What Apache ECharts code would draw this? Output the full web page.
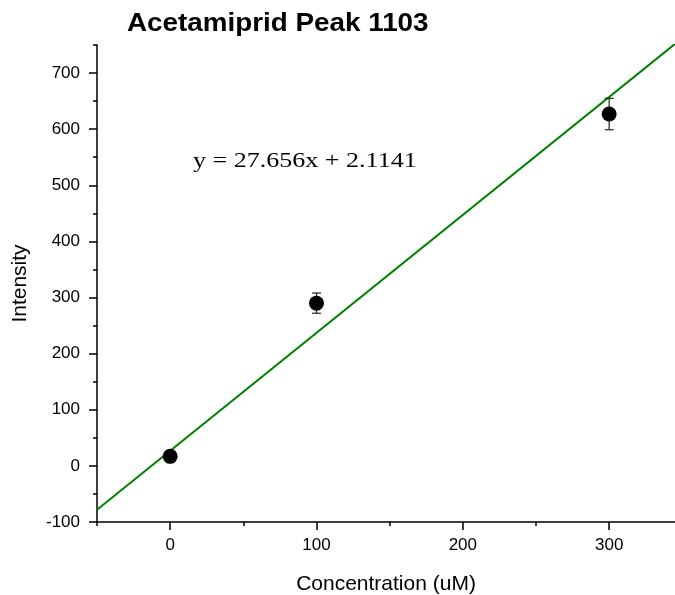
<!DOCTYPE html>
<html>
<head>
<meta charset="utf-8">
<script src="https://cdn.jsdelivr.net/npm/echarts@6/dist/echarts.min.js"></script>
<style>
  html, body { margin: 0; padding: 0; background: #ffffff; }
  #chart { width: 675px; height: 595px; }
</style>
</head>
<body>
<div id="chart"></div>
<script>
// Calibration data: measured intensity at each acetamiprid concentration
const chartTitle = 'Acetamiprid Peak 1103';
const concentration = [0, 100, 300];
const intensity = [17, 290, 627];
const intensityErr = [6, 18, 28];

// Linear fit drawn across the plot
const fitX = [-50, 345];
const fitY = [-78, 752];
const equationText = 'y = 27.656x + 2.1141';

// Axis ticks
const xTicks = [0, 100, 200, 300];
const xMinorTicks = [-50, 50, 150, 250];
const yTicks = [-100, 0, 100, 200, 300, 400, 500, 600, 700];
const yMinorTicks = [-50, 50, 150, 250, 350, 450, 550, 650, 750];

const AXIS_FONT = 'Liberation Sans, Arial, sans-serif';
const axisLineStyle = { color: '#000', width: 1.5 };

const chart = echarts.init(document.getElementById('chart'), null, { renderer: 'canvas' });

const pointData = concentration.map((x, i) => [x, intensity[i]]);
const errData = concentration.map((x, i) => [x, intensity[i], intensityErr[i]]);
const fitData = fitX.map((x, i) => [x, fitY[i]]);

chart.setOption({
  animation: false,
  backgroundColor: '#ffffff',
  grid: { left: 97, right: 0, top: 45, bottom: 73, containLabel: false, outerBoundsMode: 'none' },
  xAxis: [
    {
      type: 'value', min: -50, max: 345, position: 'bottom',
      name: 'Concentration (uM)', nameLocation: 'middle', nameGap: 52,
      nameTextStyle: { fontFamily: AXIS_FONT, fontSize: 21, color: '#000' },
      axisLine: { show: true, onZero: false, lineStyle: axisLineStyle },
      axisTick: { show: true, customValues: xTicks, length: 8, lineStyle: axisLineStyle },
      axisLabel: { customValues: xTicks, fontFamily: AXIS_FONT, fontSize: 17, color: '#000', margin: 15 },
      splitLine: { show: false }
    },
    {
      // minor ticks only
      type: 'value', min: -50, max: 345, position: 'bottom',
      axisLine: { show: false, onZero: false },
      axisTick: { show: true, customValues: xMinorTicks, length: 4, lineStyle: axisLineStyle },
      axisLabel: { show: false },
      splitLine: { show: false }
    }
  ],
  yAxis: [
    {
      type: 'value', min: -100, max: 750, position: 'left',
      name: 'Intensity', nameLocation: 'middle', nameGap: 66,
      nameTextStyle: { fontFamily: AXIS_FONT, fontSize: 21, color: '#000' },
      axisLine: { show: true, onZero: false, lineStyle: axisLineStyle },
      axisTick: { show: true, customValues: yTicks, length: 8, lineStyle: axisLineStyle },
      axisLabel: { customValues: yTicks, fontFamily: AXIS_FONT, fontSize: 17, color: '#000', margin: 17 },
      splitLine: { show: false }
    },
    {
      // minor ticks only
      type: 'value', min: -100, max: 750, position: 'left',
      axisLine: { show: false, onZero: false },
      axisTick: { show: true, customValues: yMinorTicks, length: 4, lineStyle: axisLineStyle },
      axisLabel: { show: false },
      splitLine: { show: false }
    }
  ],
  graphic: [
    {
      type: 'text', x: 127, y: 24, scaleX: 1.07, z: 10,
      style: {
        text: chartTitle, fill: '#000',
        font: 'bold 26px Liberation Sans, Arial, sans-serif',
        textAlign: 'left', textVerticalAlign: 'middle'
      }
    },
    {
      type: 'text', x: 193, y: 161, scaleX: 1.24, z: 10,
      style: {
        text: equationText, fill: '#000',
        font: '21px Liberation Serif, Times New Roman, serif',
        textAlign: 'left', textVerticalAlign: 'middle'
      }
    }
  ],
  series: [
    {
      name: 'fit', type: 'line', xAxisIndex: 0, yAxisIndex: 0,
      data: fitData, symbol: 'none', clip: true, z: 2,
      lineStyle: { color: '#008000', width: 2 }
    },
    {
      name: 'error', type: 'custom', xAxisIndex: 0, yAxisIndex: 0, z: 3,
      data: errData,
      renderItem: function (params, api) {
        const x = api.value(0), y = api.value(1), e = api.value(2);
        const top = api.coord([x, y + e]);
        const bot = api.coord([x, y - e]);
        const cap = 4.5;
        const style = { stroke: '#222', lineWidth: 1.2 };
        return {
          type: 'group',
          children: [
            { type: 'line', shape: { x1: top[0], y1: top[1], x2: bot[0], y2: bot[1] }, style: style },
            { type: 'line', shape: { x1: top[0] - cap, y1: top[1], x2: top[0] + cap, y2: top[1] }, style: style },
            { type: 'line', shape: { x1: bot[0] - cap, y1: bot[1], x2: bot[0] + cap, y2: bot[1] }, style: style }
          ]
        };
      }
    },
    {
      name: 'Intensity', type: 'scatter', xAxisIndex: 0, yAxisIndex: 0, z: 4,
      data: pointData, symbol: 'circle', symbolSize: 15,
      itemStyle: { color: '#000', opacity: 1 }
    }
  ]
});
</script>
</body>
</html>
